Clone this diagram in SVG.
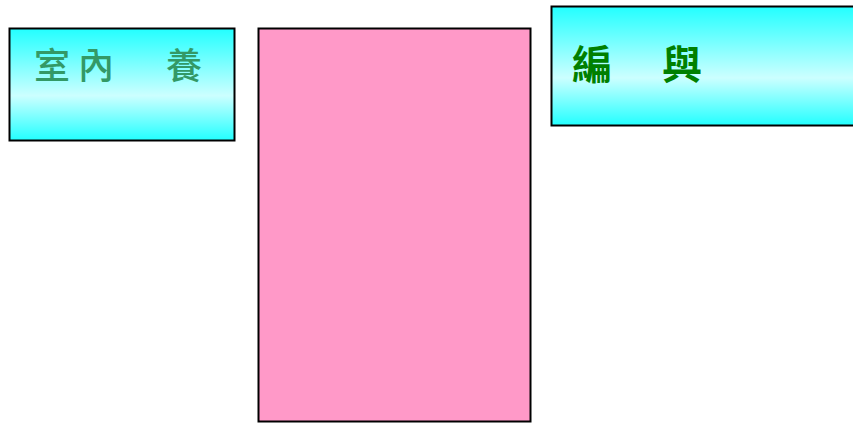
<svg xmlns="http://www.w3.org/2000/svg" width="853" height="423" viewBox="0 0 853 423">
<defs>
<linearGradient id="cy" x1="0" y1="0" x2="0" y2="1">
<stop offset="0" stop-color="#22FFFF"/>
<stop offset="0.6" stop-color="#CCFFFF"/>
<stop offset="1" stop-color="#22FFFF"/>
</linearGradient>
</defs>
<style>
.box{stroke:#000;stroke-width:2}
.t{font-family:"Noto Sans CJK TC","Noto Sans CJK SC",sans-serif}
</style>
<rect width="853" height="423" fill="#fff"/>
<g id="node1">
<rect class="box" x="9.5" y="28.5" width="225" height="112" fill="url(#cy)"/>
<text class="t" x="34" y="79" font-size="36" font-weight="500" fill="#339966" letter-spacing="8">室內　養</text>
</g>
<g id="node2">
<rect class="box" x="258.5" y="28.5" width="272" height="393" fill="#FF99C8"/>
</g>
<g id="node3">
<rect class="box" x="551.5" y="6.5" width="310" height="119" fill="url(#cy)"/>
<text class="t" x="572" y="79" font-size="40" font-weight="bold" fill="#008000" letter-spacing="5">編　與</text>
</g>
<g id="connectors"/>
</svg>
